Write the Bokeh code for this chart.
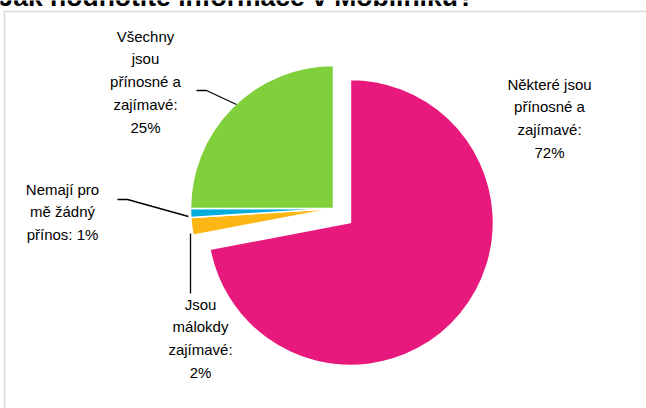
import math
from bokeh.plotting import figure
from bokeh.models import Range1d, ColumnDataSource
from bokeh.core.properties import value
from bokeh.embed import file_html
from bokeh.resources import INLINE

# ---- data ----
title = "Jak hodnotíte informace v Mobilníku?"
categories = ["Některé jsou přínosné a zajímavé", "Jsou málokdy zajímavé",
              "Nemají pro mě žádný přínos", "Všechny jsou přínosné a zajímavé"]
values = [72, 2, 1, 25]
labels = ["Některé jsou\npřínosné a\nzajímavé:\n72%",
          "Jsou\nmálokdy\nzajímavé:\n2%",
          "Nemají pro\nmě žádný\npřínos: 1%",
          "Všechny\njsou\npřínosné a\nzajímavé:\n25%"]
colors = ["#E8197C", "#FDB714", "#00ADDC", "#80D03C"]
explode = [22, 0, 0, 0]

W, H = 646, 408
def Y(v):
    return H - v

p = figure(width=W, height=H, output_backend="svg", toolbar_location=None,
           x_range=Range1d(0, W), y_range=Range1d(0, H), min_border=0)
p.axis.visible = False
p.grid.visible = False
p.outline_line_color = None
p.background_fill_color = "white"
p.border_fill_color = "white"

# chart border
p.quad(left=[4], right=[W + 10], bottom=[-10], top=[Y(11)],
       fill_color=None, line_color="#D9D9D9", line_width=1.5)

# title (cut off at the top, as in the source)
p.text(x=[-2], y=[Y(-4)], text=[title], text_font=value("Liberation Sans"),
       text_font_size="26.5px", text_font_style="bold", text_baseline="alphabetic",
       text_color="black")

# pie
cx, cy, r = 333, 208, 143
total = sum(values)
start = math.pi / 2
xs, ys, sa, ea = [], [], [], []
for v, e in zip(values, explode):
    span = v / total * 2 * math.pi
    end = start - span
    mid = (start + end) / 2
    xs.append(cx + e * math.cos(mid))
    ys.append(Y(cy) + e * math.sin(mid))
    sa.append(end)
    ea.append(start)
    start = end
src = ColumnDataSource(dict(x=xs, y=ys, s=sa, e=ea, c=colors))
p.wedge(x="x", y="y", radius=r, start_angle="s", end_angle="e", fill_color="c",
        line_color="white", line_width=1.5, source=src)

# leader lines
p.line(x=[196, 206, 236], y=[Y(90), Y(90), Y(104)], line_color="black", line_width=1.3)
p.line(x=[117, 127, 188], y=[Y(199), Y(199), Y(216)], line_color="black", line_width=1.3)
p.line(x=[190, 190], y=[Y(233), Y(293)], line_color="black", line_width=1.3)

# labels
lx = [549, 200, 62, 145]
ly = [75, 295, 180, 27]
p.text(x=lx, y=[Y(v) for v in ly], text=labels, text_font=value("Liberation Sans"),
       text_font_size="15px", text_align="center", text_baseline="top",
       text_line_height=1.34, text_color="black")

open("out.html", "w").write(file_html(p, INLINE))
